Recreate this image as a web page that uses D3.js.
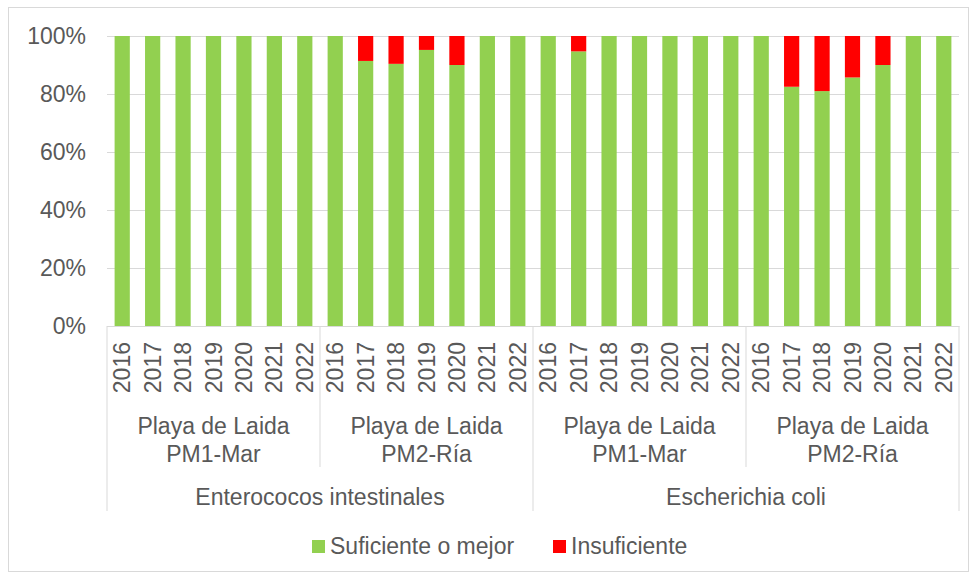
<!DOCTYPE html>
<html>
<head>
<meta charset="utf-8">
<script src="https://cdn.jsdelivr.net/npm/d3@7"></script>
<style>
  body { margin: 0; background: #fff; }
  text { font-family: "Liberation Sans", Arial, sans-serif; fill: #595959; }
</style>
</head>
<body>
<div class="graph"></div>
<script>
// data
var years = ["2016", "2017", "2018", "2019", "2020", "2021", "2022"];
var sites = [["Playa de Laida", "PM1-Mar"], ["Playa de Laida", "PM2-Ría"]];
var indicators = ["Enterococos intestinales", "Escherichia coli"];
var seriesNames = ["Suficiente o mejor", "Insuficiente"];
var colors = ["#92D050", "#FF0000"];
var yTicks = [0, 20, 40, 60, 80, 100];

// % suficiente o mejor, per bar (indicator > site > year)
var suficiente = [
  100, 100, 100, 100, 100, 100, 100,
  100, 91.4, 90.4, 95.2, 90.0, 100, 100,
  100, 94.7, 100, 100, 100, 100, 100,
  100, 82.5, 81.0, 85.7, 90.0, 100, 100
];
// % insuficiente
var insuficiente = [
  0, 0, 0, 0, 0, 0, 0,
  0, 8.6, 9.6, 4.8, 10.0, 0, 0,
  0, 5.3, 0, 0, 0, 0, 0,
  0, 17.5, 19.0, 14.3, 10.0, 0, 0
];

var W = 976, H = 581;
var margin = {top: 36, right: 17, bottom: 255, left: 107},
    width = W - margin.left - margin.right,
    height = H - margin.top - margin.bottom;

var svg = d3.select(".graph").append("svg")
  .attr("width", W).attr("height", H);

// outer chart border
svg.append("rect")
  .attr("x", 8.5).attr("y", 7.5).attr("width", 960).attr("height", 564)
  .attr("fill", "none").attr("stroke", "#d9d9d9");

var g = svg.append("g")
  .attr("transform", "translate(" + margin.left + "," + margin.top + ")");

// build flat rows
var rows = [];
indicators.forEach(function(ind, i) {
  sites.forEach(function(s, j) {
    years.forEach(function(yr, k) {
      var idx = i * 14 + j * 7 + k;
      rows.push({key: idx, year: yr, suf: suficiente[idx], ins: insuficiente[idx]});
    });
  });
});

var x = d3.scaleBand()
  .domain(rows.map(function(d) { return d.key; }))
  .range([0, width])
  .paddingInner(0.5)
  .paddingOuter(0.25);

var y = d3.scaleLinear().domain([0, 100]).range([height, 0]);

// y axis + gridlines
var yAxis = g.append("g")
  .call(d3.axisLeft(y).tickValues(yTicks).tickSize(-width).tickPadding(21)
    .tickFormat(function(d) { return d + "%"; }));
yAxis.select(".domain").remove();
yAxis.selectAll("line").attr("stroke", "#d9d9d9");
yAxis.selectAll("text").style("font-size", "23px").attr("fill", "#595959");

// stacked bars
var stack = d3.stack().keys(["suf", "ins"]);
var layers = stack(rows);

g.selectAll(".layer")
  .data(layers)
  .enter().append("g")
  .attr("fill", function(d, i) { return colors[i]; })
  .selectAll("rect")
  .data(function(d) { return d; })
  .enter().append("rect")
  .attr("x", function(d) { return x(d.data.key); })
  .attr("width", x.bandwidth())
  .attr("y", function(d) { return y(d[1]); })
  .attr("height", function(d) { return y(d[0]) - y(d[1]); });

// x axis with years
var xAxis = g.append("g")
  .attr("transform", "translate(0," + height + ")")
  .call(d3.axisBottom(x).tickSize(0)
    .tickFormat(function(k) { return rows[k].year; }));
xAxis.select(".domain").attr("stroke", "#d9d9d9");
xAxis.selectAll("text")
  .style("font-size", "23px")
  .attr("fill", "#595959")
  .attr("text-anchor", "end")
  .attr("transform", "rotate(-90)")
  .attr("x", -16)
  .attr("y", 0)
  .attr("dy", "0.35em");

// separators and group labels
var step = x.step();
function edge(i) { return x(rows[i].key) - step * 0.25; }

var sepY1 = height, sepInner = 467 - margin.top, sepOuter = 511 - margin.top;
var nSites = indicators.length * sites.length;
for (var s = 0; s <= nSites; s++) {
  var xi = s < nSites ? edge(s * 7) : width;
  var isOuter = (s % sites.length === 0);
  g.append("line")
    .attr("x1", xi).attr("x2", xi)
    .attr("y1", sepY1).attr("y2", isOuter ? sepOuter : sepInner)
    .attr("stroke", "#d9d9d9");
}

indicators.forEach(function(ind, i) {
  sites.forEach(function(site, j) {
    var a = i * 14 + j * 7;
    var cx = (edge(a) + (a + 7 < rows.length ? edge(a + 7) : width)) / 2;
    var t = g.append("text")
      .attr("text-anchor", "middle")
      .style("font-size", "23px")
      .attr("x", cx);
    t.append("tspan").attr("x", cx).attr("y", 434 - margin.top).text(site[0]);
    t.append("tspan").attr("x", cx).attr("y", 462 - margin.top).text(site[1]);
  });
  var a0 = i * 14;
  var cx0 = (edge(a0) + (a0 + 14 < rows.length ? edge(a0 + 14) : width)) / 2;
  g.append("text")
    .attr("text-anchor", "middle")
    .style("font-size", "23px")
    .attr("x", cx0).attr("y", 505 - margin.top)
    .text(ind);
});

// legend
var legendX = [312, 553];
seriesNames.forEach(function(name, i) {
  svg.append("rect")
    .attr("x", legendX[i]).attr("y", 540)
    .attr("width", 13).attr("height", 13)
    .attr("fill", colors[i]);
  svg.append("text")
    .attr("x", legendX[i] + 18).attr("y", 554)
    .style("font-size", "23px")
    .text(name);
});
</script>
</body>
</html>
